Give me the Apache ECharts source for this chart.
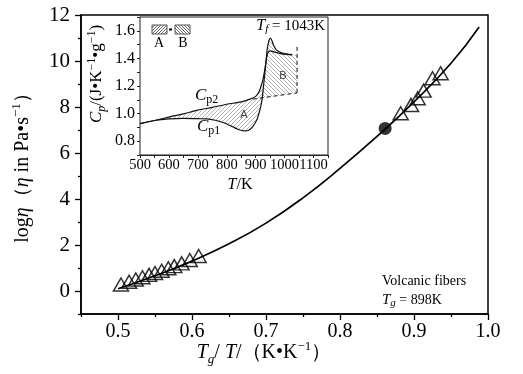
<!DOCTYPE html>
<html>
<head>
<meta charset="utf-8">
<script src="https://cdn.jsdelivr.net/npm/echarts@6/dist/echarts.min.js"></script>
<style>
html, body { margin: 0; padding: 0; background: #fff; }
#chart { width: 523px; height: 374px; }
</style>
</head>
<body>
<div id="chart"></div>
<script>
// ---- main panel: log viscosity against reduced temperature Tg/T ----
const fitX = [0.50, 0.55, 0.60, 0.65, 0.70, 0.75, 0.80, 0.85, 0.90, 0.95, 0.988];
const fitY = [0.10, 0.66, 1.30, 2.05, 2.95, 4.05, 5.33, 6.72, 8.22, 9.90, 11.48];

const lowTriX = [0.504, 0.515, 0.524, 0.533, 0.542, 0.550, 0.559, 0.568, 0.576, 0.586, 0.597, 0.609];
const lowTriY = [0.28, 0.40, 0.50, 0.60, 0.70, 0.78, 0.88, 0.99, 1.08, 1.20, 1.35, 1.52];

const highTriX = [0.882, 0.896, 0.905, 0.913, 0.925, 0.936];
const highTriY = [7.73, 8.09, 8.38, 8.71, 9.25, 9.47];

const dotX = [0.861];
const dotY = [7.07];

const xLabels = [0.5, 0.6, 0.7, 0.8, 0.9, 1.0];
const xMinor = [0.45, 0.55, 0.65, 0.75, 0.85, 0.95];
const yLabels = [0, 2, 4, 6, 8, 10, 12];
const yMinor = [-1, 1, 3, 5, 7, 9, 11];

// ---- inset: specific heat of the fibers, first and second upscan ----
const t1 = [500, 550, 600, 650, 700, 730, 760, 790, 820, 840, 860, 875, 890, 905, 915, 922, 928, 934, 940, 946, 951, 956, 963, 972, 985, 1000, 1015, 1027];
const cp1 = [0.927, 0.950, 0.962, 0.965, 0.963, 0.962, 0.952, 0.934, 0.905, 0.885, 0.875, 0.878, 0.905, 0.960, 1.030, 1.100, 1.220, 1.340, 1.470, 1.530, 1.548, 1.530, 1.490, 1.460, 1.445, 1.435, 1.430, 1.428];

const t2 = [500, 550, 600, 650, 700, 750, 800, 850, 880, 900, 912, 920, 925, 930, 936, 942, 950, 965, 985, 1005, 1025];
const cp2 = [0.927, 0.950, 0.975, 0.998, 1.025, 1.045, 1.068, 1.085, 1.105, 1.125, 1.160, 1.210, 1.245, 1.300, 1.380, 1.440, 1.455, 1.445, 1.435, 1.430, 1.425];

const glassT = [890, 1043];
const glassCp = [1.105, 1.150];
const tfT = [1043, 1043];
const tfCp = [1.150, 1.500];

const insetXLabels = [500, 600, 700, 800, 900, 1000, 1100];
const insetXTicks = [500, 550, 600, 650, 700, 750, 800, 850, 900, 950, 1000, 1050, 1100, 1150];
const insetYLabels = [0.8, 1.0, 1.2, 1.4, 1.6];
const insetYTicks = [0.7, 0.8, 0.9, 1.0, 1.1, 1.2, 1.3, 1.4, 1.5, 1.6, 1.7];

// region A lies between the two scans, region B between the first scan and the glass line
const areaA = [575, 926];
const areaB = [921, 1043];

const zip = (a, b) => a.map((v, i) => [v, b[i]]);

function hatch(slash, step, color) {
  const c = document.createElement('canvas');
  c.width = step; c.height = step;
  const g = c.getContext('2d');
  g.strokeStyle = color;
  g.lineWidth = 1;
  g.beginPath();
  if (slash) {
    g.moveTo(0, step); g.lineTo(step, 0);
    g.moveTo(-1, 1); g.lineTo(1, -1);
    g.moveTo(step - 1, step + 1); g.lineTo(step + 1, step - 1);
  } else {
    g.moveTo(0, 0); g.lineTo(step, step);
    g.moveTo(-1, step - 1); g.lineTo(1, step + 1);
    g.moveTo(step - 1, -1); g.lineTo(step + 1, 1);
  }
  g.stroke();
  return c;
}
const patA = { image: hatch(true, 4, '#b4b4b4'), repeat: 'repeat' };
const patB = { image: hatch(false, 4, '#b4b4b4'), repeat: 'repeat' };

function interp(xs, ys, x) {
  for (let i = 1; i < xs.length; i++) {
    if (x <= xs[i]) {
      const f = (x - xs[i - 1]) / (xs[i] - xs[i - 1]);
      return ys[i - 1] + f * (ys[i] - ys[i - 1]);
    }
  }
  return ys[ys.length - 1];
}

function polyA() {
  const top = zip(t2, cp2).filter(p => p[0] >= areaA[0] && p[0] <= areaA[1]);
  const bot = zip(t1, cp1).filter(p => p[0] >= areaA[0] && p[0] <= areaA[1]).reverse();
  return top.concat(bot);
}
function polyB() {
  const top = zip(t1, cp1).filter(p => p[0] >= areaB[0]);
  const last = cp1[cp1.length - 1];
  return [[areaB[0], interp(glassT, glassCp, areaB[0])]]
    .concat(top)
    .concat([[areaB[1], last], [areaB[1], glassCp[1]]]);
}

function areaSeries(getPts, pat) {
  return {
    type: 'custom', xAxisIndex: 2, yAxisIndex: 2, z: 4,
    data: [[0, 0]],
    renderItem: (params, api) => ({
      type: 'polygon',
      shape: { points: getPts().map(p => api.coord(p)) },
      style: { fill: pat, stroke: null }
    })
  };
}

const serif = '"Liberation Serif", "Times New Roman", serif';
const fmt1 = v => Number(v).toFixed(1);
const fmt0 = v => String(Math.round(v));

const chart = echarts.init(document.getElementById('chart'), null, { renderer: 'canvas' });

chart.setOption({
  animation: false,
  backgroundColor: '#fff',
  grid: [
    { left: 81, top: 15, width: 407, height: 299, show: true, borderColor: '#000', borderWidth: 1.5 },
    { left: 140, top: 17, width: 188, height: 138, show: true, borderColor: '#222', borderWidth: 1, backgroundColor: '#fff', z: 3 }
  ],
  xAxis: [
    {
      type: 'value', gridIndex: 0, min: 0.45, max: 1.0, position: 'bottom',
      axisLine: { show: true, onZero: false, lineStyle: { color: '#000', width: 1.5 } },
      axisTick: { show: true, length: 6, lineStyle: { color: '#000', width: 1.3 }, customValues: xLabels },
      axisLabel: { customValues: xLabels, formatter: fmt1, color: '#000', fontFamily: serif, fontSize: 20, margin: 8 },
      splitLine: { show: false }
    },
    {
      type: 'value', gridIndex: 0, min: 0.45, max: 1.0, position: 'bottom',
      axisLine: { show: false, onZero: false },
      axisTick: { show: true, length: 3, lineStyle: { color: '#000', width: 1.3 }, customValues: xMinor },
      axisLabel: { show: false },
      splitLine: { show: false }
    },
    {
      type: 'value', gridIndex: 1, min: 500, max: 1150, position: 'bottom',
      axisLine: { show: true, onZero: false, lineStyle: { color: '#222', width: 1 } },
      axisTick: { show: true, length: 3, lineStyle: { color: '#222' }, customValues: insetXTicks },
      axisLabel: {
        customValues: insetXLabels, formatter: fmt0, color: '#000', fontFamily: serif, fontSize: 14.5, margin: 3,
        hideOverlap: false, showMinLabel: true, showMaxLabel: true
      },
      splitLine: { show: false }
    }
  ],
  yAxis: [
    {
      type: 'value', gridIndex: 0, min: -1, max: 12, position: 'left',
      axisLine: { show: true, onZero: false, lineStyle: { color: '#000', width: 1.5 } },
      axisTick: { show: true, length: 6, lineStyle: { color: '#000', width: 1.3 }, customValues: yLabels },
      axisLabel: { customValues: yLabels, color: '#000', fontFamily: serif, fontSize: 21, margin: 11 },
      splitLine: { show: false }
    },
    {
      type: 'value', gridIndex: 0, min: -1, max: 12, position: 'left',
      axisLine: { show: false, onZero: false },
      axisTick: { show: true, length: 3, lineStyle: { color: '#000', width: 1.3 }, customValues: yMinor },
      axisLabel: { show: false },
      splitLine: { show: false }
    },
    {
      type: 'value', gridIndex: 1, min: 0.7, max: 1.7, position: 'left',
      axisLine: { show: true, onZero: false, lineStyle: { color: '#222', width: 1 } },
      axisTick: { show: true, length: 3, lineStyle: { color: '#222' }, customValues: insetYTicks },
      axisLabel: { customValues: insetYLabels, formatter: fmt1, color: '#000', fontFamily: serif, fontSize: 16, margin: 5 },
      splitLine: { show: false }
    }
  ],
  series: [
    {
      type: 'line', xAxisIndex: 0, yAxisIndex: 0, data: zip(fitX, fitY),
      smooth: 0.5, showSymbol: false, lineStyle: { color: '#000', width: 1.7 }, z: 2
    },
    {
      type: 'scatter', xAxisIndex: 0, yAxisIndex: 0, data: zip(lowTriX, lowTriY),
      symbol: 'triangle', symbolSize: [15, 13],
      itemStyle: { color: 'rgba(255,255,255,0)', borderColor: '#000', borderWidth: 1.5 }, z: 3
    },
    {
      type: 'scatter', xAxisIndex: 0, yAxisIndex: 0, data: zip(highTriX, highTriY),
      symbol: 'triangle', symbolSize: [15, 13],
      itemStyle: { color: 'rgba(255,255,255,0)', borderColor: '#000', borderWidth: 1.5 }, z: 3
    },
    {
      type: 'scatter', xAxisIndex: 0, yAxisIndex: 0, data: zip(dotX, dotY),
      symbol: 'circle', symbolSize: 13, itemStyle: { color: '#000' }, z: 4
    },
    areaSeries(polyA, patA),
    areaSeries(polyB, patB),
    {
      type: 'line', xAxisIndex: 2, yAxisIndex: 2, data: zip(t1, cp1), z: 5,
      smooth: 0.25, showSymbol: false, lineStyle: { color: '#111', width: 1.2 }
    },
    {
      type: 'line', xAxisIndex: 2, yAxisIndex: 2, data: zip(t2, cp2), z: 5,
      smooth: 0.25, showSymbol: false, lineStyle: { color: '#111', width: 1.2 }
    },
    {
      type: 'line', xAxisIndex: 2, yAxisIndex: 2, data: zip(glassT, glassCp), z: 5,
      showSymbol: false, lineStyle: { color: '#111', width: 1, type: [4, 3] }
    },
    {
      type: 'line', xAxisIndex: 2, yAxisIndex: 2, data: zip(tfT, tfCp), z: 5,
      showSymbol: false, lineStyle: { color: '#111', width: 1, type: [4, 3] }
    }
  ],
  graphic: [
    // main axis titles
    {
      type: 'text', x: 23, y: 163, rotation: Math.PI / 2, z: 10,
      style: {
        text: '{n|log}{e|η}{n|（}{e|η}{n| in Pa•s}{sup|−1}{n|）}',
        align: 'center', verticalAlign: 'middle', fill: '#000',
        rich: {
          n: { fontFamily: serif, fontSize: 20, lineHeight: 26 },
          e: { fontFamily: serif, fontSize: 20, fontStyle: 'italic', lineHeight: 26 },
          sup: { fontFamily: serif, fontSize: 13, lineHeight: 12, verticalAlign: 'top' }
        }
      }
    },
    {
      type: 'text', x: 264, y: 353, z: 10,
      style: {
        text: '{i|T}{sub|g}{n|/ }{i|T}{n|/（K•K}{sup|−1}{n|）}',
        align: 'center', verticalAlign: 'middle', fill: '#000',
        rich: {
          n: { fontFamily: serif, fontSize: 20, lineHeight: 26 },
          i: { fontFamily: serif, fontSize: 20, fontStyle: 'italic', lineHeight: 26 },
          sub: { fontFamily: serif, fontSize: 13, fontStyle: 'italic', lineHeight: 12, verticalAlign: 'bottom' },
          sup: { fontFamily: serif, fontSize: 13, lineHeight: 12, verticalAlign: 'top' }
        }
      }
    },
    // sample note
    {
      type: 'text', x: 382, y: 281, z: 10,
      style: { text: 'Volcanic fibers', fontFamily: serif, fontSize: 14, fill: '#000', align: 'left', verticalAlign: 'middle' }
    },
    {
      type: 'text', x: 382, y: 300, z: 10,
      style: {
        text: '{i|T}{sub|g}{n| = 898K}', align: 'left', verticalAlign: 'middle', fill: '#000',
        rich: {
          n: { fontFamily: serif, fontSize: 14, lineHeight: 18 },
          i: { fontFamily: serif, fontSize: 15, fontStyle: 'italic', lineHeight: 18 },
          sub: { fontFamily: serif, fontSize: 11, fontStyle: 'italic', lineHeight: 10, verticalAlign: 'bottom' }
        }
      }
    },
    // inset axis titles
    {
      type: 'text', x: 97, y: 74, rotation: Math.PI / 2, z: 10,
      style: {
        text: '{i|C}{sub|p}{n|/(J•K}{sup|−1}{n|•g}{sup|−1}{n|)}',
        align: 'center', verticalAlign: 'middle', fill: '#000',
        rich: {
          n: { fontFamily: serif, fontSize: 17, lineHeight: 22 },
          i: { fontFamily: serif, fontSize: 17, fontStyle: 'italic', lineHeight: 22 },
          sub: { fontFamily: serif, fontSize: 12, fontStyle: 'italic', lineHeight: 10, verticalAlign: 'bottom' },
          sup: { fontFamily: serif, fontSize: 12, lineHeight: 10, verticalAlign: 'top' }
        }
      }
    },
    {
      type: 'text', x: 240, y: 185, z: 10,
      style: {
        text: '{i|T}{n|/K}', align: 'center', verticalAlign: 'middle', fill: '#000',
        rich: {
          n: { fontFamily: serif, fontSize: 16, lineHeight: 20 },
          i: { fontFamily: serif, fontSize: 16, fontStyle: 'italic', lineHeight: 20 }
        }
      }
    },
    // inset annotations
    {
      type: 'text', x: 325, y: 26, z: 10,
      style: {
        text: '{i|T}{sub|f}{n| = 1043K}', align: 'right', verticalAlign: 'middle', fill: '#000',
        rich: {
          n: { fontFamily: serif, fontSize: 15, lineHeight: 18 },
          i: { fontFamily: serif, fontSize: 16, fontStyle: 'italic', lineHeight: 18 },
          sub: { fontFamily: serif, fontSize: 11, fontStyle: 'italic', lineHeight: 10, verticalAlign: 'bottom' }
        }
      }
    },
    {
      type: 'text', x: 195, y: 96, z: 10,
      style: {
        text: '{i|C}{sub|p2}', align: 'left', verticalAlign: 'middle', fill: '#000',
        rich: {
          i: { fontFamily: serif, fontSize: 17, fontStyle: 'italic', lineHeight: 20 },
          sub: { fontFamily: serif, fontSize: 12, lineHeight: 10, verticalAlign: 'bottom' }
        }
      }
    },
    {
      type: 'text', x: 197, y: 127, z: 10,
      style: {
        text: '{i|C}{sub|p1}', align: 'left', verticalAlign: 'middle', fill: '#000',
        rich: {
          i: { fontFamily: serif, fontSize: 17, fontStyle: 'italic', lineHeight: 20 },
          sub: { fontFamily: serif, fontSize: 12, lineHeight: 10, verticalAlign: 'bottom' }
        }
      }
    },
    {
      type: 'text', x: 244, y: 115, z: 10,
      style: { text: 'A', fontFamily: '"Liberation Sans", Arial, sans-serif', fontSize: 11, fill: '#444', align: 'center', verticalAlign: 'middle' }
    },
    {
      type: 'text', x: 283, y: 76, z: 10,
      style: { text: 'B', fontFamily: '"Liberation Sans", Arial, sans-serif', fontSize: 11, fill: '#444', align: 'center', verticalAlign: 'middle' }
    },
    // inset key: A - B
    {
      type: 'rect', shape: { x: 152, y: 25, width: 15, height: 9 }, z: 10,
      style: { fill: { image: hatch(true, 3, '#666'), repeat: 'repeat' }, stroke: '#555', lineWidth: 1 }
    },
    {
      type: 'rect', shape: { x: 169, y: 28.5, width: 3, height: 2 }, z: 10,
      style: { fill: '#000' }
    },
    {
      type: 'rect', shape: { x: 175, y: 25, width: 15, height: 9 }, z: 10,
      style: { fill: { image: hatch(false, 3, '#666'), repeat: 'repeat' }, stroke: '#555', lineWidth: 1 }
    },
    {
      type: 'text', x: 159, y: 43, z: 10,
      style: { text: 'A', fontFamily: serif, fontSize: 14, fill: '#000', align: 'center', verticalAlign: 'middle' }
    },
    {
      type: 'text', x: 183, y: 43, z: 10,
      style: { text: 'B', fontFamily: serif, fontSize: 14, fill: '#000', align: 'center', verticalAlign: 'middle' }
    }
  ]
});
</script>
</body>
</html>
